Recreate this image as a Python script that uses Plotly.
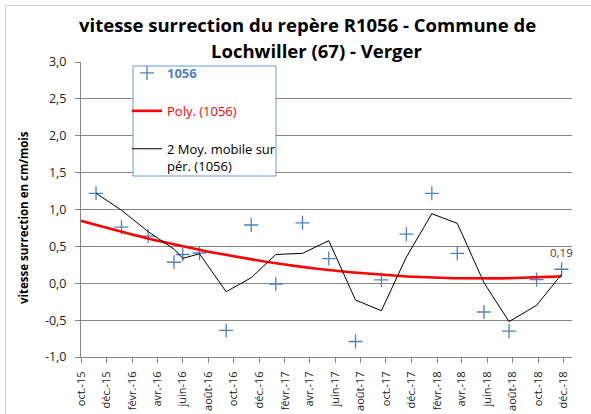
import numpy as np
import plotly.graph_objects as go

# ---- data ----
dates = ["2015-11-06", "2016-01-06", "2016-03-10", "2016-05-11", "2016-06-01",
         "2016-07-11", "2016-09-13", "2016-11-12", "2017-01-10", "2017-03-15",
         "2017-05-17", "2017-07-20", "2017-09-20", "2017-11-19", "2018-01-19",
         "2018-03-21", "2018-05-24", "2018-07-23", "2018-09-27", "2018-11-26"]
values = [1.22, 0.76, 0.64, 0.285, 0.39, 0.41, -0.64, 0.79, -0.01, 0.82,
          0.335, -0.79, 0.045, 0.665, 1.22, 0.405, -0.39, -0.65, 0.05, 0.19]
last_label = "0,19"

tick_dates = ["2015-10-01", "2015-12-01", "2016-02-01", "2016-04-01", "2016-06-01",
              "2016-08-01", "2016-10-01", "2016-12-01", "2017-02-01", "2017-04-01",
              "2017-06-01", "2017-08-01", "2017-10-01", "2017-12-01", "2018-02-01",
              "2018-04-01", "2018-06-01", "2018-08-01", "2018-10-01", "2018-12-01"]
tick_text = ["oct.-15", "déc.-15", "févr.-16", "avr.-16", "juin-16", "août-16",
             "oct.-16", "déc.-16", "févr.-17", "avr.-17", "juin-17", "août-17",
             "oct.-17", "déc.-17", "févr.-18", "avr.-18", "juin-18", "août-18",
             "oct.-18", "déc.-18"]
y_ticks = [-1.0, -0.5, 0.0, 0.5, 1.0, 1.5, 2.0, 2.5, 3.0]
y_text = ["-1,0", "-0,5", "0,0", "0,5", "1,0", "1,5", "2,0", "2,5", "3,0"]

x_start = "2015-10-01"
x_end = "2018-12-21"

# ---- derived series ----
d = np.array(dates, dtype="datetime64[D]")
t0 = np.datetime64(x_start, "D")
days = (d - t0).astype(float)
vals = np.array(values)

# 2-period moving average (first vertex is the first value)
ma = np.empty_like(vals)
ma[0] = vals[0]
ma[1:] = (vals[:-1] + vals[1:]) / 2.0

# polynomial (order 2) trendline, drawn from the axis start to the last point
coef = np.polyfit(days, vals, 2)
tgrid = np.linspace(-5, days[-1], 200)
trend = np.polyval(coef, tgrid)
tdates = (t0 + np.round(tgrid).astype("timedelta64[D]")).astype(str)

FONT = "'Open Sans', 'Noto Sans', sans-serif"
BLUE = "#4F81BD"

fig = go.Figure()
fig.add_trace(go.Scatter(
    x=dates, y=values, mode="markers",
    name="<span style='color:#4F81BD'><b>1056</b></span>",
    marker=dict(symbol="cross-thin", size=10, color=BLUE,
                line=dict(color=BLUE, width=1.3)),
    legendgroup="a",
))
fig.add_trace(go.Scatter(
    x=tdates, y=trend, mode="lines",
    name="<span style='color:#FF0000'>Poly. (1056)</span>",
    line=dict(color="#FF0000", width=2.6), legendgroup="b",
))
fig.add_trace(go.Scatter(
    x=dates, y=ma, mode="lines",
    name="2 Moy. mobile sur<br>pér. (1056)",
    line=dict(color="#000000", width=1), legendgroup="c",
))

L, R, T, B = 81, 19, 62, 57
W, H = 591, 414
pw, ph = W - L - R, H - T - B

def px(xp):
    return (xp - L) / pw

def py(yp):
    return (H - B - yp) / ph

fig.update_layout(
    width=W, height=H,
    margin=dict(l=L, r=R, t=T, b=B, autoexpand=False),
    paper_bgcolor="white", plot_bgcolor="white",
    font=dict(family=FONT, size=12, color="#000000"),
    showlegend=True,
    legend=dict(
        x=px(127), y=py(58), xanchor="left", yanchor="top",
        borderwidth=0, bgcolor="rgba(0,0,0,0)",
        font=dict(family=FONT, size=13, color="#000000"),
        tracegroupgap=18, traceorder="grouped", valign="top",
    ),
    xaxis=dict(
        type="date", range=[x_start, x_end], automargin=False,
        tickvals=tick_dates, ticktext=tick_text, tickangle=-90,
        tickfont=dict(family=FONT, size=11, color="#222222"),
        ticklabelstandoff=4,
        showgrid=False, showline=True, linecolor="#868686", linewidth=1,
        ticks="outside", ticklen=5, tickcolor="#868686",
        zeroline=False, fixedrange=True,
    ),
    yaxis=dict(
        range=[-1, 3], tickvals=y_ticks, ticktext=y_text, automargin=False,
        tickfont=dict(family=FONT, size=12.5, color="#222222"),
        ticklabelstandoff=6,
        showgrid=True, gridcolor="#868686", gridwidth=1,
        showline=True, linecolor="#868686", linewidth=1,
        ticks="outside", ticklen=5, tickcolor="#868686",
        zeroline=False, fixedrange=True,
    ),
    shapes=[
        dict(type="rect", xref="paper", yref="paper",
             x0=px(5.5), x1=px(600), y0=py(420), y1=py(5.5),
             line=dict(color="#D0D0D0", width=1), layer="below"),
        dict(type="rect", xref="paper", yref="paper",
             x0=px(133), x1=px(276), y0=py(176), y1=py(66),
             line=dict(color="#6A9AD4", width=1), fillcolor="white",
             layer="above"),
    ],
    annotations=[
        dict(text="<b>vitesse surrection du repère R1056 - Commune de</b>",
             x=px(307.5), y=py(25), xref="paper", yref="paper",
             xanchor="center", yanchor="middle", showarrow=False,
             font=dict(family=FONT, size=18.5, color="#000000")),
        dict(text="<b>Lochwiller (67) - Verger</b>",
             x=px(316.5), y=py(51), xref="paper", yref="paper",
             xanchor="center", yanchor="middle", showarrow=False,
             font=dict(family=FONT, size=18.5, color="#000000")),
        dict(text="<b>vitesse surrection en cm/mois</b>",
             x=px(23), y=py(218), xref="paper", yref="paper",
             xanchor="center", yanchor="middle", showarrow=False,
             textangle=-90,
             font=dict(family=FONT, size=11.5, color="#000000")),
        dict(text=last_label, x=dates[-1], y=values[-1], xref="x", yref="y",
             yshift=17, showarrow=False, xanchor="center", yanchor="middle",
             font=dict(family=FONT, size=11.5, color="#404040")),
    ],
)

fig.write_html("out.html", config={"displayModeBar": False},
               post_script="document.body.style.margin='0px';")
